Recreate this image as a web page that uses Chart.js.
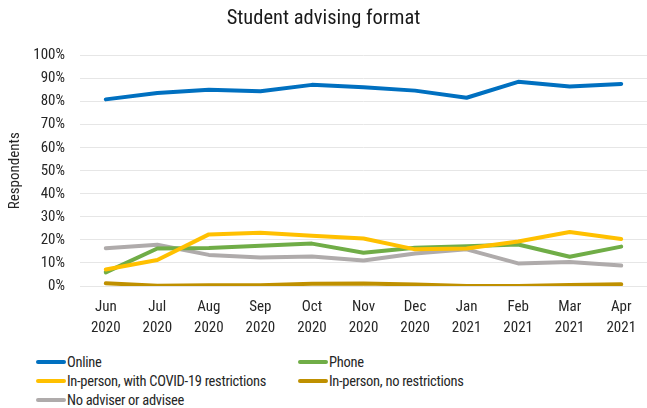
<!DOCTYPE html>
<html>
<head>
<meta charset="utf-8">
<script src="https://cdn.jsdelivr.net/npm/chart.js@4/dist/chart.umd.min.js"></script>
<style>
  html, body { margin: 0; padding: 0; background: #fff; }
  body { width: 647px; height: 408px; position: relative; overflow: hidden;
         font-family: "Roboto Condensed", "Liberation Sans Narrow", "DejaVu Sans Condensed", Roboto, sans-serif; }
  #wrap { position: absolute; left: 0; top: 0; width: 647px; height: 345px; }
  #legend { position: absolute; left: 0; top: 352px; width: 647px; height: 56px; }
  .item { position: absolute; display: flex; align-items: center; font-size: 14.5px; letter-spacing: -0.3px; color: #262626; line-height: 19px; white-space: nowrap; }
  .swatch { width: 30px; height: 4px; border-radius: 2px; margin-right: 1px; }
</style>
</head>
<body>
<div id="wrap"><canvas id="c"></canvas></div>
<div id="legend"></div>
<script>
const categories = [["Jun","2020"],["Jul","2020"],["Aug","2020"],["Sep","2020"],["Oct","2020"],["Nov","2020"],["Dec","2020"],["Jan","2021"],["Feb","2021"],["Mar","2021"],["Apr","2021"]];
const online        = [81.0, 83.8, 85.2, 84.5, 87.3, 86.3, 84.8, 81.7, 88.6, 86.6, 87.7];
const phone         = [5.9, 16.3, 16.5, 17.5, 18.4, 14.4, 16.6, 17.2, 18.0, 12.7, 17.1];
const inPersonCovid = [7.2, 11.3, 22.4, 23.1, 21.8, 20.6, 15.9, 16.3, 19.3, 23.4, 20.4];
const inPersonNone  = [1.2, 0.1, 0.3, 0.3, 1.0, 1.1, 0.6, 0.0, 0.0, 0.4, 0.8];
const noAdviser     = [16.4, 17.9, 13.5, 12.4, 12.8, 11.1, 14.1, 15.9, 9.8, 10.4, 8.9];
const yTicks = [0,10,20,30,40,50,60,70,80,90,100];

const seriesNames = ["Online","Phone","In-person, with COVID-19 restrictions","In-person, no restrictions","No adviser or advisee"];
const seriesData = [online, phone, inPersonCovid, inPersonNone, noAdviser];
const seriesColors = ["#0070C0","#70AD47","#FFC000","#BF9000","#AFABAB"];

const FONT = '"Roboto Condensed", "Liberation Sans Narrow", "DejaVu Sans Condensed", Roboto, sans-serif';
Chart.defaults.font.family = FONT;
Chart.defaults.color = '#262626';

const datasets = seriesNames.map((n,i)=>({
  label: n, data: seriesData[i], borderColor: seriesColors[i], backgroundColor: seriesColors[i],
  borderWidth: 4, pointRadius: 0, pointHoverRadius: 0, tension: 0, fill: false, borderCapStyle: 'round', borderJoinStyle: 'round'
}));
datasets.forEach((d,i)=>{ d.order = [5,2,1,4,3][i]; });

new Chart(document.getElementById('c'), {
  type: 'line',
  data: { labels: categories, datasets },
  options: {
    responsive: true, maintainAspectRatio: false, animation: false,
    layout: { padding: { left: 0, right: 0, top: 0, bottom: 0 } },
    plugins: {
      legend: { display: false },
      tooltip: { enabled: false },
      title: { display: true, text: 'Student advising format', color: '#1a1a1a',
               font: { size: 20.5, weight: 'normal', family: FONT }, padding: { top: 7, bottom: 24 } }
    },
    scales: {
      x: {
        offset: true,
        grid: { display: false, drawTicks: false },
        border: { display: false },
        ticks: { font: { size: 15, lineHeight: 1.45 }, color: '#262626', maxRotation: 0, autoSkip: false, padding: 10 },
        afterFit: s => { s.height = 59; }
      },
      y: {
        min: 0, max: 100,
        afterBuildTicks: s => { s.ticks = yTicks.map(v=>({value:v})); },
        grid: { color: '#e6e6e6', lineWidth: 1, drawTicks: false },
        border: { display: false },
        ticks: { font: { size: 15 }, color: '#262626', padding: 15, callback: v => v + '%' },
        title: { display: true, text: 'Respondents', font: { size: 15 }, color: '#262626', padding: { top: 6, bottom: 0 } },
        afterFit: s => { s.width = 80; }
      }
    }
  }
});

const legend = document.getElementById('legend');
const pos = [[36,10],[298,10],[36,29],[298,29],[36,48]];
seriesNames.forEach((n,i)=>{
  const it = document.createElement('div');
  it.className = 'item';
  it.style.left = pos[i][0] + 'px';
  it.style.top = (pos[i][1] - 9.5) + 'px';
  const sw = document.createElement('span'); sw.className='swatch'; sw.style.background = seriesColors[i];
  const tx = document.createElement('span'); tx.textContent = n;
  it.appendChild(sw); it.appendChild(tx);
  legend.appendChild(it);
});
</script>
</body>
</html>
